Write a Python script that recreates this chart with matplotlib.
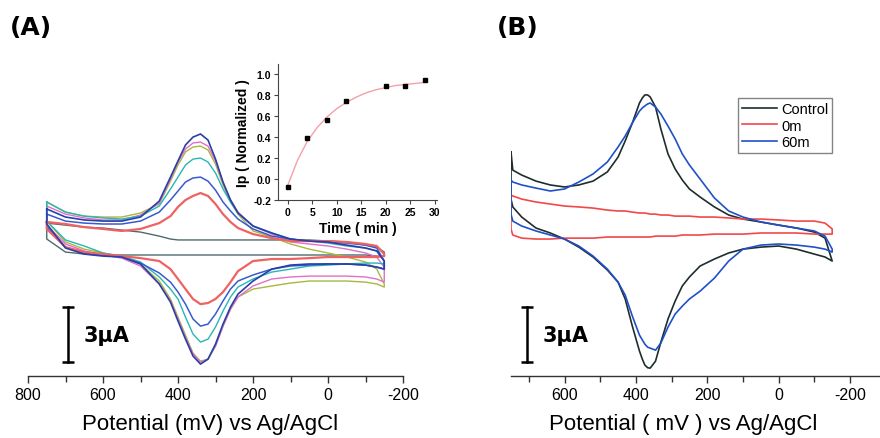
import matplotlib.pyplot as plt
from matplotlib.ticker import MultipleLocator

plt.rcParams['axes.unicode_minus'] = False

# ---------------- panel A: CVs at different times (mV, uA) ----------------
E_A = [750, 700, 650, 600, 550, 500, 450, 420, 400, 380, 360, 340, 320,
       300, 280, 260, 240, 200, 150, 100, 50, 0, -50, -100, -130, -150]

# upper branch follows E_A, lower branch follows E_A reversed
grey_up = [0.87, 0.76, 0.65, 0.60, 0.49, 0.38, 0.16, 0.0, -0.05, -0.05, -0.05, -0.05, -0.05,
           -0.05, -0.05, -0.05, -0.05, -0.05, -0.05, -0.05, -0.05, -0.11, -0.16, -0.33, -0.44, -0.71]
grey_low = [-0.93, -0.93, -0.87, -0.87, -0.87, -0.87, -0.87, -0.87, -0.87, -0.87, -0.87, -0.87, -0.87,
            -0.87, -0.87, -0.87, -0.87, -0.87, -0.87, -0.87, -0.87, -0.87, -0.87, -0.82, -0.71, 0.0]

red_up = [0.93, 0.82, 0.65, 0.55, 0.44, 0.55, 0.87, 1.25, 1.75, 2.13, 2.35, 2.51, 2.35,
          1.91, 1.36, 0.93, 0.60, 0.27, 0.05, -0.11, -0.11, -0.11, -0.16, -0.27, -0.38, -0.82]
red_low = [-0.93, -0.98, -0.98, -0.98, -0.98, -1.04, -1.09, -1.09, -1.20, -1.75, -2.35, -2.89, -3.27,
           -3.49, -3.55, -3.27, -2.73, -2.18, -1.64, -1.20, -1.04, -0.93, -0.82, -0.71, -0.44, 0.55]

blue_up = [1.36, 0.98, 0.87, 0.82, 0.82, 0.98, 1.47, 2.13, 2.62, 3.11, 3.33, 3.38, 3.16,
           2.67, 2.02, 1.53, 1.09, 0.55, 0.16, 0.0, -0.11, -0.16, -0.22, -0.33, -0.49, -1.20]
blue_low = [-1.64, -1.53, -1.42, -1.36, -1.36, -1.42, -1.47, -1.64, -1.96, -2.29, -2.73, -3.38, -4.09,
            -4.64, -4.75, -4.36, -3.55, -2.89, -2.35, -1.85, -1.31, -0.98, -0.87, -0.76, -0.44, 0.65]

cyan_up = [2.02, 1.47, 1.25, 1.15, 1.09, 1.25, 1.80, 2.73, 3.38, 4.04, 4.36, 4.42, 4.20,
           3.60, 2.73, 2.02, 1.42, 0.71, 0.33, 0.0, -0.11, -0.22, -0.38, -0.49, -0.65, -1.20]
cyan_low = [-1.36, -1.31, -1.31, -1.36, -1.42, -1.47, -1.64, -1.80, -2.18, -2.62, -3.16, -3.93, -4.80,
            -5.46, -5.62, -5.18, -4.26, -3.27, -2.73, -2.07, -1.25, -0.93, -0.76, -0.38, -0.05, 0.98]

pink_up = [1.80, 1.36, 1.15, 1.04, 1.04, 1.31, 1.96, 3.27, 4.20, 4.91, 5.24, 5.29, 5.07,
           4.26, 3.06, 2.13, 1.47, 0.71, 0.27, -0.16, -0.27, -0.38, -0.55, -0.76, -0.98, -1.53]
pink_low = [-2.35, -2.18, -2.07, -2.02, -2.02, -2.02, -2.07, -2.18, -2.56, -3.16, -3.82, -4.75, -5.84,
            -6.55, -6.71, -6.27, -5.35, -4.36, -3.38, -2.45, -1.47, -1.04, -0.87, -0.65, -0.27, 0.76]

olive_up = [2.02, 1.47, 1.25, 1.20, 1.20, 1.42, 1.91, 3.16, 4.04, 4.75, 5.02, 5.07, 4.86,
            4.09, 2.95, 2.02, 1.36, 0.44, 0.11, -0.27, -0.55, -0.76, -0.98, -1.25, -1.64, -2.45]
olive_low = [-2.62, -2.45, -2.35, -2.29, -2.29, -2.29, -2.40, -2.56, -2.73, -3.16, -3.82, -4.75, -5.84,
             -6.55, -6.66, -6.22, -5.24, -4.26, -3.27, -2.29, -1.36, -0.98, -0.76, -0.55, -0.16, 0.98]

navy_up = [1.64, 1.20, 1.04, 0.98, 0.98, 1.20, 2.07, 3.38, 4.26, 5.13, 5.56, 5.73, 5.40,
           4.36, 3.11, 2.13, 1.42, 0.71, 0.33, 0.0, -0.11, -0.16, -0.33, -0.49, -0.65, -1.20]
navy_low = [-1.64, -1.53, -1.42, -1.36, -1.36, -1.36, -1.42, -1.64, -2.29, -3.00, -3.71, -4.64, -5.73,
            -6.55, -6.82, -6.38, -5.46, -4.47, -3.44, -2.45, -1.36, -0.98, -0.93, -0.82, -0.49, 0.82]

# inset: normalized peak current vs time
t_min = [0, 4, 8, 12, 20, 24, 28]
ip_norm = [-0.076, 0.39, 0.565, 0.743, 0.889, 0.889, 0.94]
fit_t = [0, 2, 4, 6, 8, 10, 12, 14, 16, 18, 20, 22, 24, 26, 28]
fit_ip = [-0.06, 0.18, 0.36, 0.49, 0.59, 0.67, 0.73, 0.78, 0.82, 0.85, 0.87, 0.89, 0.90, 0.91, 0.92]

# ---------------- panel B: Control / 0m / 60m ----------------
E_B = [750, 745, 720, 680, 640, 600, 560, 520, 480, 450, 430, 410, 390, 382, 375, 367, 360, 345,
       330, 310, 290, 270, 250, 220, 180, 140, 100, 50, 0, -50, -100, -130, -150]

ctrl_up = [4.75, 3.76, 3.49, 3.16, 2.95, 2.84, 2.95, 3.16, 3.66, 4.47, 5.35, 6.33, 7.42, 7.69, 7.86, 7.86, 7.75, 7.20,
           6.00, 4.64, 3.82, 3.22, 2.73, 2.29, 1.75, 1.31, 1.09, 0.93, 0.76, 0.60, 0.38, 0.05, -1.20]
ctrl_low = [-1.20, -0.98, -0.82, -0.55, -0.38, -0.44, -0.55, -0.76, -1.09, -1.47, -2.07, -2.56, -3.38, -4.36, -5.62,
            -6.66, -7.04, -7.02, -6.87, -6.55, -6.11, -4.75, -3.27, -2.35, -1.69, -0.98, -0.44, 0.0, 0.33, 0.60,
            1.20, 1.75, 2.18]

m0_up = [2.40, 2.35, 2.18, 2.02, 1.91, 1.80, 1.75, 1.69, 1.58, 1.53, 1.53, 1.47, 1.42, 1.42, 1.42, 1.39, 1.36, 1.36,
         1.31, 1.31, 1.25, 1.25, 1.25, 1.20, 1.20, 1.15, 1.09, 1.09, 1.04, 0.98, 0.98, 0.87, 0.55]
m0_low = [0.27, 0.27, 0.27, 0.33, 0.33, 0.33, 0.27, 0.27, 0.27, 0.22, 0.22, 0.22, 0.16, 0.16, 0.16,
          0.16, 0.11, 0.11, 0.11, 0.11, 0.11, 0.11, 0.11, 0.11, 0.11, 0.05, 0.05, 0.05, 0.0, 0.0,
          0.05, 0.22, 0.55]

m60_up = [3.22, 3.11, 2.95, 2.78, 2.62, 2.73, 3.11, 3.55, 4.20, 5.02, 5.62, 6.33, 6.98, 7.15, 7.26, 7.37, 7.42, 7.20,
          6.82, 6.16, 5.46, 4.64, 4.04, 3.27, 2.24, 1.53, 1.20, 0.93, 0.76, 0.60, 0.44, 0.16, -0.55]
m60_low = [-0.71, -0.55, -0.44, -0.33, -0.27, -0.33, -0.55, -1.20, -2.13, -2.84, -3.27, -3.66, -4.09, -4.80, -5.67,
           -6.06, -5.95, -5.90, -5.73, -5.50, -5.24, -4.20, -3.06, -2.35, -1.64, -0.93, -0.38, 0.0, 0.22, 0.44,
           0.71, 0.98, 1.36]

legend_labels = ['Control', '0m', '60m']
scale_uA = 3

sans = ['Liberation Sans', 'DejaVu Sans']


def loop(E, up, low):
    xs = list(E) + list(E[::-1]) + [E[0]]
    ys = list(up) + list(low) + [up[0]]
    return xs, ys


def style_axis(ax, xlim):
    ax.set_xlim(*xlim)
    ax.set_ylim(-7.47, 9.82)
    for s in ['left', 'right', 'top']:
        ax.spines[s].set_visible(False)
    ax.spines['bottom'].set_color('#333333')
    ax.spines['bottom'].set_linewidth(1.0)
    ax.set_yticks([])
    ax.xaxis.set_major_locator(MultipleLocator(200))
    ax.xaxis.set_minor_locator(MultipleLocator(100))
    ax.tick_params(axis='x', which='major', direction='out', length=5, width=1,
                   color='#333333', labelsize=11.5, pad=3)
    ax.tick_params(axis='x', which='minor', direction='out', length=4, width=1, color='#333333')
    for lab in ax.get_xticklabels():
        lab.set_family(sans)
    ax.patch.set_visible(False)


def scale_bar(ax, x, xt):
    y0 = -6.71
    ax.plot([x, x], [y0, y0 + scale_uA], color='black', lw=1.8)
    ax.plot([x, x], [y0, y0 + scale_uA], ls='none', marker='_', ms=8, mew=1.8, color='black')
    ax.text(xt, y0 + scale_uA / 2, '3µA', fontsize=15, fontweight='bold', va='center', ha='left')


fig = plt.figure(figsize=(8.8, 4.39), dpi=100)

# panel A
axA = fig.add_axes([28 / 880, 62 / 439, 375 / 880, 317 / 439])
curvesA = [(grey_up, grey_low, '#4d6b6b', 1.0), (olive_up, olive_low, '#a8b840', 1.0),
           (pink_up, pink_low, '#e070c8', 1.0), (cyan_up, cyan_low, '#2ab5b5', 1.0),
           (blue_up, blue_low, '#3a5ad0', 1.1), (red_up, red_low, '#f06262', 1.6),
           (navy_up, navy_low, '#2a3fa8', 1.2)]
for up, low, c, lw in curvesA:
    xs, ys = loop(E_A, up, low)
    axA.plot(xs, ys, color=c, lw=lw)
style_axis(axA, (800, -200))
scale_bar(axA, 693, 653)

# inset
axI = fig.add_axes([278 / 880, 238 / 439, 159 / 880, 136.5 / 439])
axI.plot(fit_t, fit_ip, color='#f4a0a8', lw=1.0)
axI.plot(t_min, ip_norm, ls='none', marker='s', ms=3, color='black')
axI.set_xlim(-2, 30.5)
axI.set_ylim(-0.2, 1.1)
axI.set_xticks([0, 5, 10, 15, 20, 25, 30])
axI.set_yticks([-0.2, 0.0, 0.2, 0.4, 0.6, 0.8, 1.0])
axI.set_yticklabels(['-0.2', '0.0', '0.2', '0.4', '0.6', '0.8', '1.0'])
for s in ['right', 'top']:
    axI.spines[s].set_visible(False)
for s in ['left', 'bottom']:
    axI.spines[s].set_color('#444444')
    axI.spines[s].set_linewidth(0.8)
axI.tick_params(direction='out', length=3, width=0.8, labelsize=7.5, pad=2, color='#444444')
for lab in axI.get_xticklabels() + axI.get_yticklabels():
    lab.set_family(sans)
    lab.set_fontweight('bold')
axI.set_xlabel('Time ( min )', fontsize=10, fontweight='bold', family=sans, labelpad=3)
axI.set_ylabel('Ip ( Normalized )', fontsize=10, fontweight='bold', family=sans, labelpad=2)
axI.patch.set_visible(False)

# panel B
axB = fig.add_axes([511 / 880, 62 / 439, 369 / 880, 317 / 439])
for up, low, c, lab in [(ctrl_up, ctrl_low, '#1f2d2d', legend_labels[0]),
                        (m0_up, m0_low, '#f24848', legend_labels[1]),
                        (m60_up, m60_low, '#2050c8', legend_labels[2])]:
    xs, ys = loop(E_B, up, low)
    axB.plot(xs, ys, color=c, lw=1.2, label=lab)
style_axis(axB, (750, -284))
scale_bar(axB, 706, 661)
leg = axB.legend(loc='upper left', bbox_to_anchor=(738 / 880, 1 - 99 / 439),
                 bbox_transform=fig.transFigure, fontsize=10.5, frameon=True, fancybox=False,
                 handlelength=2.4, handletextpad=0.3, labelspacing=0.2, borderpad=0.25,
                 borderaxespad=0, prop={'family': sans, 'size': 10.5})
leg.get_frame().set_edgecolor('#666666')
leg.get_frame().set_linewidth(1.0)

# labels
fig.text(10 / 880, 1 - 28 / 439, '(A)', fontsize=18, fontweight='bold', va='center', ha='left')
fig.text(497 / 880, 1 - 28 / 439, '(B)', fontsize=18, fontweight='bold', va='center', ha='left')
fig.text(210 / 880, 1 - 425 / 439, 'Potential (mV) vs Ag/AgCl', fontsize=16,
         family=sans, ha='center', va='center')
fig.text(683 / 880, 1 - 425 / 439, 'Potential ( mV ) vs Ag/AgCl', fontsize=16,
         family=sans, ha='center', va='center')

fig.savefig('out.png', dpi=100)
